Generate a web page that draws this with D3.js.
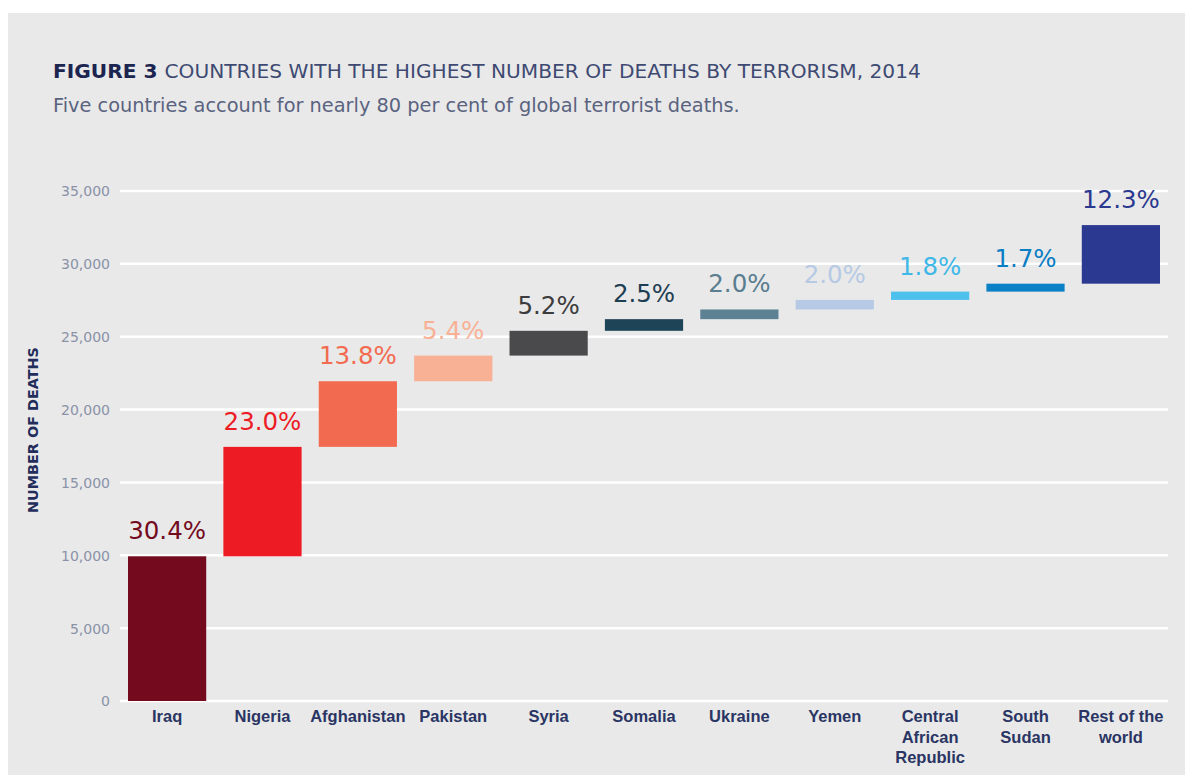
<!DOCTYPE html>
<html>
<head>
<meta charset="utf-8">
<script src="https://cdn.jsdelivr.net/npm/d3@7"></script>
<style>
  html, body { margin: 0; padding: 0; background: #ffffff; }
  svg { display: block; }
</style>
</head>
<body>
<script>
// ---- data ----
const categories = ["Iraq", "Nigeria", "Afghanistan", "Pakistan", "Syria", "Somalia", "Ukraine", "Yemen", "Central African Republic", "South Sudan", "Rest of the world"];
const categoryLines = [["Iraq"], ["Nigeria"], ["Afghanistan"], ["Pakistan"], ["Syria"], ["Somalia"], ["Ukraine"], ["Yemen"], ["Central", "African", "Republic"], ["South", "Sudan"], ["Rest of the", "world"]];
const deaths = [9930, 7510, 4505, 1760, 1700, 800, 665, 655, 570, 545, 4020];
const pctLabels = ["30.4%", "23.0%", "13.8%", "5.4%", "5.2%", "2.5%", "2.0%", "2.0%", "1.8%", "1.7%", "12.3%"];
const barColors = ["#730a1e", "#ed1c24", "#f26b50", "#f9b196", "#4a4a4c", "#1e4457", "#5c8294", "#b6cae5", "#4dc1ec", "#0a80c6", "#2b3990"];
const labelColors = ["#730a1e", "#ed1c24", "#f26b50", "#f9b196", "#3c3c3e", "#1e3e52", "#5a7d8f", "#b6cae5", "#3fb8e8", "#0a7dc4", "#2b3990"];
const yTicks = [0, 5000, 10000, 15000, 20000, 25000, 30000, 35000];

// ---- derived waterfall data ----
let run = 0;
const rows = categories.map((c, i) => {
  const start = run;
  run += deaths[i];
  return { cat: c, lines: categoryLines[i], start: start, end: run, pct: pctLabels[i], color: barColors[i], lcolor: labelColors[i] };
});

const W = 1185, H = 775;
const svg = d3.select("body").append("svg").attr("width", W).attr("height", H);

function fitWidth(sel, target) {
  const node = sel.node();
  const size = parseFloat(sel.attr("font-size"));
  const w = node.getComputedTextLength ? node.getComputedTextLength() : node.getBBox().width;
  if (w > 0) sel.attr("font-size", size * target / w);
}

// panel
svg.append("rect").attr("x", 8).attr("y", 13).attr("width", W - 8).attr("height", H - 13).attr("fill", "#e9e9e9");

// title
const title = svg.append("text").attr("x", 53).attr("y", 78)
  .attr("font-family", "'DejaVu Sans', sans-serif").attr("font-size", 18);
title.append("tspan").attr("font-weight", "bold").attr("fill", "#1c2450").text("FIGURE 3 ");
title.append("tspan").attr("fill", "#3e4a72").text("COUNTRIES WITH THE HIGHEST NUMBER OF DEATHS BY TERRORISM, 2014");
fitWidth(title, 868);

const sub = svg.append("text").attr("x", 53).attr("y", 112)
  .attr("font-family", "'DejaVu Sans', sans-serif").attr("font-size", 16)
  .attr("fill", "#5a6380")
  .text("Five countries account for nearly 80 per cent of global terrorist deaths.");
fitWidth(sub, 687);

// scales
const y = d3.scaleLinear().domain([0, 35000]).range([701, 191]);
const x = d3.scaleBand().domain(categories).range([128, 1160]).paddingInner(0.18).paddingOuter(0);

// y axis labels
const yAxis = d3.axisLeft(y).tickValues(yTicks).tickFormat(d3.format(",")).tickSize(0).tickPadding(0);
const gAxis = svg.append("g").attr("transform", "translate(110,0)").call(yAxis);
gAxis.select(".domain").remove();
gAxis.selectAll("text")
  .attr("font-family", "'DejaVu Sans', sans-serif").attr("font-size", 14)
  .attr("fill", "#8a92a8").attr("dy", "0.35em");

// gridlines
svg.append("g").selectAll("line").data(yTicks).join("line")
  .attr("x1", 120).attr("x2", 1168)
  .attr("y1", d => y(d)).attr("y2", d => y(d))
  .attr("stroke", "#ffffff").attr("stroke-width", 2.5);

// axis title
const at = svg.append("text")
  .attr("transform", "translate(38,430) rotate(-90)")
  .attr("text-anchor", "middle")
  .attr("font-family", "'DejaVu Sans', sans-serif").attr("font-weight", "bold")
  .attr("font-size", 13).attr("fill", "#232d5c")
  .text("NUMBER OF DEATHS");
fitWidth(at, 166);

// bars
svg.append("g").selectAll("rect").data(rows).join("rect")
  .attr("x", d => x(d.cat))
  .attr("width", x.bandwidth())
  .attr("y", d => y(d.end))
  .attr("height", d => y(d.start) - y(d.end))
  .attr("fill", d => d.color);

// percentage labels
svg.append("g").selectAll("text").data(rows).join("text")
  .attr("x", d => x(d.cat) + x.bandwidth() / 2)
  .attr("y", d => y(d.end) - 17)
  .attr("text-anchor", "middle")
  .attr("font-family", "'DejaVu Sans', sans-serif")
  .attr("font-size", 24.5)
  .attr("fill", d => d.lcolor)
  .text(d => d.pct);

// category labels
const cat = svg.append("g").selectAll("text").data(rows).join("text")
  .attr("text-anchor", "middle")
  .attr("font-family", "'Liberation Sans', Arial, sans-serif").attr("font-weight", "bold")
  .attr("font-size", 16.5).attr("fill", "#2a3563");
cat.each(function(d) {
  const t = d3.select(this);
  d.lines.forEach((ln, j) => {
    t.append("tspan").attr("x", x(d.cat) + x.bandwidth() / 2).attr("y", 722 + j * 20.5).text(ln);
  });
});
</script>
</body>
</html>
